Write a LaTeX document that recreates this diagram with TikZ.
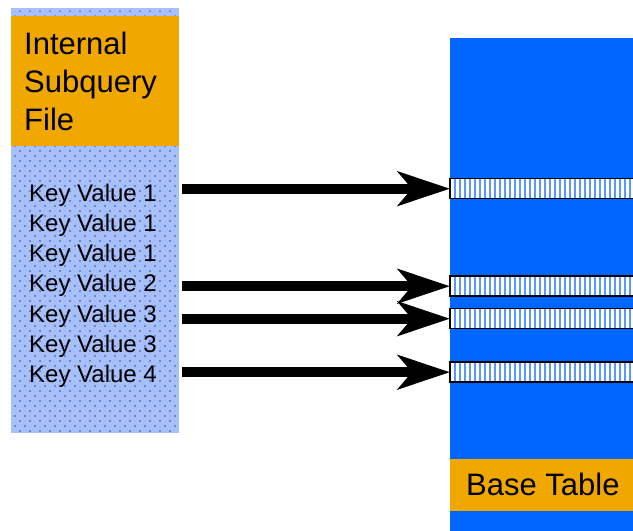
\documentclass[tikz,border=0pt]{standalone}
\usepackage{fontspec}
\setmainfont{Liberation Sans}
\usetikzlibrary{arrows.meta,patterns.meta}
\definecolor{orng}{HTML}{F0A800}
\definecolor{bblue}{HTML}{0066FF}
\definecolor{lblue}{HTML}{A8C0F8}
\definecolor{dotblue}{HTML}{1830C0}
\definecolor{stripe}{HTML}{5A98FF}
\tikzset{
  panelbox/.style={draw=none, inner sep=0pt, anchor=north west},
  keytext/.style={anchor=base west, inner sep=0pt, font=\fontsize{24}{28}\selectfont},
  rowbar/.style={draw=none, fill=white,
    postaction={pattern={Lines[angle=90,distance=5pt,line width=1.8pt]}, pattern color=stripe},
    postaction={draw=black, line width=1.5pt},
    minimum height=20pt, inner sep=0pt, anchor=north west},
  bigarrow/.style={line width=10pt, -{Stealth[length=52pt,width=34pt,inset=14pt]}}
}
\begin{document}
\begin{tikzpicture}[x=1pt,y=-1pt]
\useasboundingbox (0,0) rectangle (633,531);
% left panel
\node[panelbox, fill=lblue, minimum width=168pt, minimum height=425pt,
  postaction={pattern={Dots[distance=7.07pt,angle=45,radius=0.8pt]}, pattern color=dotblue}] (panel) at (11,8) {};
\node[panelbox, fill=orng, minimum width=168pt, minimum height=130pt] (isf) at (11,16) {};
\node[anchor=north west, inner sep=0pt, align=left, font=\fontsize{31}{38.3}\selectfont] (isftext) at (24,31.5) {Internal\\Subquery\\File};
% key values
\node[keytext] (k1) at (29,201) {Key Value 1};
\node[keytext] (k2) at (29,231.3) {Key Value 1};
\node[keytext] (k3) at (29,261.6) {Key Value 1};
\node[keytext] (k4) at (29,291.9) {Key Value 2};
\node[keytext] (k5) at (29,322.2) {Key Value 3};
\node[keytext] (k6) at (29,352.5) {Key Value 3};
\node[keytext] (k7) at (29,382.8) {Key Value 4};
% right panel
\node[panelbox, fill=bblue, minimum width=190pt, minimum height=500pt] (base) at (450,38) {};
\node[rowbar, minimum width=190pt] (b1) at (450,178.5) {};
\node[rowbar, minimum width=190pt] (b2) at (450,276) {};
\node[rowbar, minimum width=190pt] (b3) at (450,308.5) {};
\node[rowbar, minimum width=190pt] (b4) at (450,362) {};
\node[panelbox, fill=orng, minimum width=190pt, minimum height=52pt] (btbox) at (450,459) {};
\node[anchor=base west, inner sep=0pt, font=\fontsize{31}{36}\selectfont] (bttext) at (466,495) {Base Table};
% arrows
\foreach \b in {b1,b2,b3,b4}{
  \draw[bigarrow] ([xshift=3pt]panel.east |- \b.west) -- (\b.west);
}
\end{tikzpicture}
\end{document}
